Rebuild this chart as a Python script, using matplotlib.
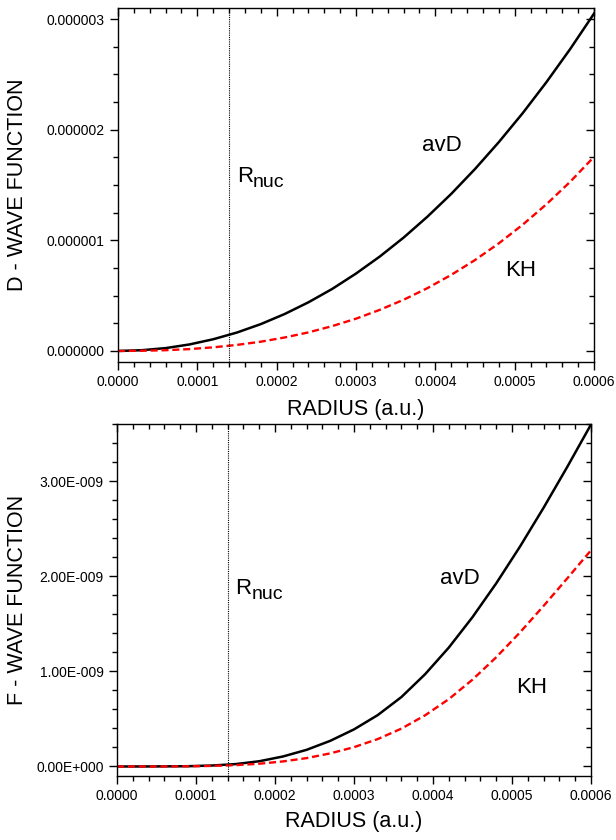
import matplotlib.pyplot as plt
from matplotlib.ticker import MultipleLocator, FuncFormatter

plt.rcParams['font.family'] = ['Liberation Sans', 'DejaVu Sans']

# radius grid (a.u.)
radius = [0.0, 0.00003, 0.00006, 0.00009, 0.00012, 0.00015, 0.00018, 0.00021,
          0.00024, 0.00027, 0.00030, 0.00033, 0.00036, 0.00039, 0.00042,
          0.00045, 0.00048, 0.00051, 0.00054, 0.00057, 0.00060]

# D - wave function (units of 1e-6)
d_avd = [0.0, 0.007, 0.026, 0.059, 0.106, 0.167, 0.243, 0.334, 0.440, 0.561,
         0.700, 0.854, 1.025, 1.214, 1.420, 1.645, 1.888, 2.149, 2.430, 2.730, 3.050]
d_kh = [0.0, 0.002, 0.007, 0.017, 0.033, 0.055, 0.084, 0.122, 0.168, 0.225,
        0.292, 0.372, 0.463, 0.568, 0.688, 0.822, 0.973, 1.141, 1.326, 1.530, 1.755]

# F - wave function (units of 1e-9)
f_avd = [0.0, 0.0, 0.001, 0.003, 0.010, 0.025, 0.055, 0.105, 0.175, 0.270,
         0.390, 0.540, 0.730, 0.970, 1.250, 1.570, 1.925, 2.310, 2.720, 3.150, 3.595]
f_kh = [0.0, 0.0, 0.0, 0.002, 0.006, 0.014, 0.029, 0.053, 0.088, 0.138,
        0.203, 0.288, 0.398, 0.538, 0.708, 0.913, 1.148, 1.408, 1.688, 1.978, 2.273]

x_ticks = [0.0, 0.0001, 0.0002, 0.0003, 0.0004, 0.0005, 0.0006]
d_ticks = [0.0, 1e-6, 2e-6, 3e-6]
f_ticks = [0.0, 1e-9, 2e-9, 3e-9]

r_nuc = 0.00014

d_scale = 1e-6
f_scale = 1e-9


def e_fmt(v, pos):
    if abs(v) < 1e-30:
        return '0.00E+000'
    s = '%.2E' % v
    mant, ex = s.split('E')
    return '%sE%s%03d' % (mant, ex[0], int(ex[1:]))


def f_fmt(v, pos):
    if abs(v) < 1e-12:
        v = 0.0
    return '%.6f' % v


def r_label(ax, x, y):
    ax.text(x, y, 'R', fontsize=16, ha='left', va='center')
    ax.annotate('nuc', xy=(x, y), xytext=(11.5, -4.5), textcoords='offset points',
                fontsize=14, ha='left', va='center')


fig = plt.figure(figsize=(6.16, 8.4), dpi=100)
ax1 = fig.add_axes([0.1916, 0.569, 0.7727, 0.4214])
ax2 = fig.add_axes([0.19, 0.0762, 0.7694, 0.419])

# top panel
ax1.plot(radius, [v * d_scale for v in d_avd], color='black', lw=1.8)
ax1.plot(radius, [v * d_scale for v in d_kh], color='red', lw=1.7, dashes=(3, 1.6))
ax1.axvline(r_nuc, color='black', lw=0.8, ls=(0, (1, 1)))
ax1.set_xlim(0, 0.0006)
ax1.set_ylim(-0.1e-6, 3.1e-6)
ax1.set_yticks(d_ticks)
ax1.yaxis.set_minor_locator(MultipleLocator(0.25e-6))
ax1.yaxis.set_major_formatter(FuncFormatter(f_fmt))
ax1.set_xlabel('RADIUS (a.u.)', fontsize=15.5, labelpad=7)
ax1.set_ylabel('D - WAVE FUNCTION', fontsize=15.5)
ax1.yaxis.set_label_coords(-0.189, 0.5)
ax1.text(0.000408, 1.86e-6, 'avD', fontsize=16, ha='center', va='center')
ax1.text(0.000507, 0.73e-6, 'KH', fontsize=16, ha='center', va='center')
r_label(ax1, 0.000150, 1.58e-6)

# bottom panel
ax2.plot(radius, [v * f_scale for v in f_avd], color='black', lw=1.8)
ax2.plot(radius, [v * f_scale for v in f_kh], color='red', lw=1.7, dashes=(3, 1.6))
ax2.axvline(r_nuc, color='black', lw=0.8, ls=(0, (1, 1)))
ax2.set_xlim(0, 0.0006)
ax2.set_ylim(-0.1e-9, 3.6e-9)
ax2.set_yticks(f_ticks)
ax2.yaxis.set_minor_locator(MultipleLocator(0.2e-9))
ax2.yaxis.set_major_formatter(FuncFormatter(e_fmt))
ax2.set_xlabel('RADIUS (a.u.)', fontsize=15.5, labelpad=5.5)
ax2.set_ylabel('F - WAVE FUNCTION', fontsize=15.5)
ax2.yaxis.set_label_coords(-0.188, 0.5)
ax2.text(0.000434, 1.98e-9, 'avD', fontsize=16, ha='center', va='center')
ax2.text(0.000525, 0.83e-9, 'KH', fontsize=16, ha='center', va='center')
r_label(ax2, 0.000150, 1.87e-9)

for ax in (ax1, ax2):
    ax.set_xticks(x_ticks)
    ax.xaxis.set_minor_locator(MultipleLocator(0.00002))
    ax.xaxis.set_major_formatter(FuncFormatter(lambda v, p: '%.4f' % v))
    ax.tick_params(which='both', labelsize=10, width=1)
    ax.tick_params(which='major', length=6)
    ax.tick_params(which='minor', length=3.5)
    ax.tick_params(axis='x', which='both', bottom=True, top=True, direction='out')
    ax.tick_params(axis='y', which='both', left=True, right=True, direction='out')
    for s in ax.spines.values():
        s.set_linewidth(1.0)
    # ticks on the top and right edges point into the plot
    for t in ax.xaxis.get_major_ticks() + ax.xaxis.get_minor_ticks():
        t.tick2line.set_marker(3)
    for t in ax.yaxis.get_major_ticks() + ax.yaxis.get_minor_ticks():
        t.tick2line.set_marker(0)

fig.savefig('out.png', dpi=100)
